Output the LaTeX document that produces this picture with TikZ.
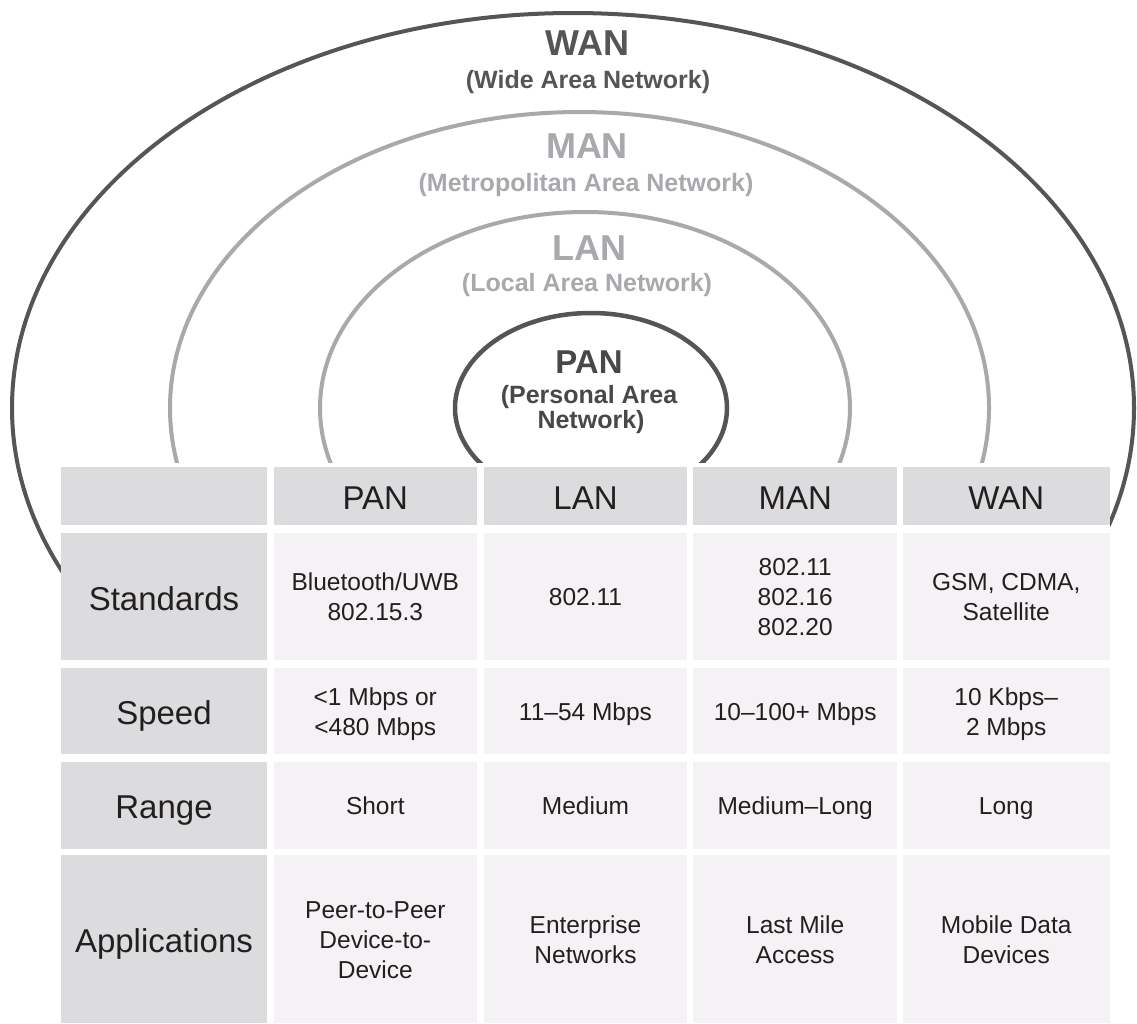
\documentclass[tikz,border=0pt]{standalone}
\usepackage{fontspec}
\setmainfont{Liberation Sans}
\definecolor{hdr}{RGB}{220,219,222}
\definecolor{cellbg}{RGB}{245,242,245}
\definecolor{ringdark}{RGB}{85,85,88}
\definecolor{ringlight}{RGB}{168,169,172}
\definecolor{txt}{RGB}{35,31,32}
\newcommand\bstr{\rule[-5.7pt]{0pt}{30pt}}
\newcommand\hstr{\rule[-6.2pt]{0pt}{40pt}}
\tikzset{
  cell/.style={rectangle, inner sep=0pt, align=center, text=txt},
  hcell/.style={cell, fill=hdr, font=\fontsize{33}{40}\selectfont, execute at begin node=\hstr},
  bcell/.style={cell, fill=cellbg, font=\fontsize{24.5}{30}\selectfont},
  cA/.style={minimum width=206pt},
  cB/.style={minimum width=202.7pt},
  cC/.style={minimum width=203.6pt},
  cD/.style={minimum width=203.7pt},
  cE/.style={minimum width=207pt},
  rA/.style={minimum height=58.3pt},
  rB/.style={minimum height=127.3pt},
  rC/.style={minimum height=86.6pt},
  rD/.style={minimum height=87pt},
  rE/.style={minimum height=168pt},
  ttl/.style={anchor=base, inner sep=0pt, font=\bfseries\fontsize{36}{40}\selectfont},
  sub/.style={anchor=base, inner sep=0pt, font=\bfseries\fontsize{25}{25}\selectfont},
}
\begin{document}
\begin{tikzpicture}[x=1pt,y=-1pt]
\useasboundingbox (0,0) rectangle (1137,1023);
\fill[white] (0,0) rectangle (1137,1023);
% rings
\draw[ringdark, line width=4pt] (573,408) ellipse [x radius=561, y radius=395];
\draw[ringlight, line width=4pt] (579.5,408) ellipse [x radius=409.5, y radius=296];
\draw[ringlight, line width=4pt] (585,408) ellipse [x radius=265, y radius=196];
\draw[ringdark, line width=4.5pt] (591,408) ellipse [x radius=136, y radius=95];
% ring labels
\node[ttl, text=ringdark] (wan) at (587,55) {WAN};
\node[sub, text=ringdark] (wansub) at (588,88.5) {(Wide Area Network)};
\node[ttl, text=ringlight] (man) at (587,158.3) {MAN};
\node[sub, text=ringlight] (mansub) at (586,191) {(Metropolitan Area Network)};
\node[ttl, text=ringlight] (lan) at (589,260) {LAN};
\node[sub, text=ringlight] (lansub) at (587,291) {(Local Area Network)};
\node[ttl, text=ringdark!85!black, font=\bfseries\fontsize{33}{40}\selectfont] (pan) at (589,373) {PAN};
\node[sub, text=ringdark!85!black] (pansub1) at (589,403) {(Personal Area};
\node[sub, text=ringdark!85!black] (pansub2) at (591,428) {Network)};
% table backdrop
\fill[white] (61,463) rectangle (1110,1023);
% header row
\node[hcell, cA, rA] (h0) at (164,495.8) {};
\node[hcell, cB, rA] (h1) at (375.3,495.8) {PAN};
\node[hcell, cC, rA] (h2) at (585.5,495.8) {LAN};
\node[hcell, cD, rA] (h3) at (795.2,495.8) {MAN};
\node[hcell, cE, rA] (h4) at (1006.2,495.8) {WAN};
% Standards
\node[hcell, cA, rB] (s0) at (164,596.3) {Standards};
\node[bcell, cB, rB] (s1) at (375.3,596.3) {\bstr Bluetooth/UWB\\\bstr 802.15.3};
\node[bcell, cC, rB] (s2) at (585.5,596.3) {\bstr 802.11};
\node[bcell, cD, rB] (s3) at (795.2,596.3) {\bstr 802.11\\\bstr 802.16\\\bstr 802.20};
\node[bcell, cE, rB] (s4) at (1006.2,596.3) {\bstr GSM, CDMA,\\\bstr Satellite};
% Speed
\node[hcell, cA, rC] (p0) at (164,711) {Speed};
\node[bcell, cB, rC] (p1) at (375.3,711) {\bstr <1 Mbps or\\\bstr <480 Mbps};
\node[bcell, cC, rC] (p2) at (585.5,711) {\bstr 11–54 Mbps};
\node[bcell, cD, rC] (p3) at (795.2,711) {\bstr 10–100+ Mbps};
\node[bcell, cE, rC] (p4) at (1006.2,711) {\bstr 10 Kbps–\\\bstr 2 Mbps};
% Range
\node[hcell, cA, rD] (g0) at (164,805.5) {Range};
\node[bcell, cB, rD] (g1) at (375.3,805.5) {\bstr Short};
\node[bcell, cC, rD] (g2) at (585.5,805.5) {\bstr Medium};
\node[bcell, cD, rD] (g3) at (795.2,805.5) {\bstr Medium–Long};
\node[bcell, cE, rD] (g4) at (1006.2,805.5) {\bstr Long};
% Applications
\node[hcell, cA, rE] (a0) at (164,939) {Applications};
\node[bcell, cB, rE] (a1) at (375.3,939) {\bstr Peer-to-Peer\\\bstr Device-to-\\\bstr Device};
\node[bcell, cC, rE] (a2) at (585.5,939) {\bstr Enterprise\\\bstr Networks};
\node[bcell, cD, rE] (a3) at (795.2,939) {\bstr Last Mile\\\bstr Access};
\node[bcell, cE, rE] (a4) at (1006.2,939) {\bstr Mobile Data\\\bstr Devices};
\end{tikzpicture}
\end{document}
